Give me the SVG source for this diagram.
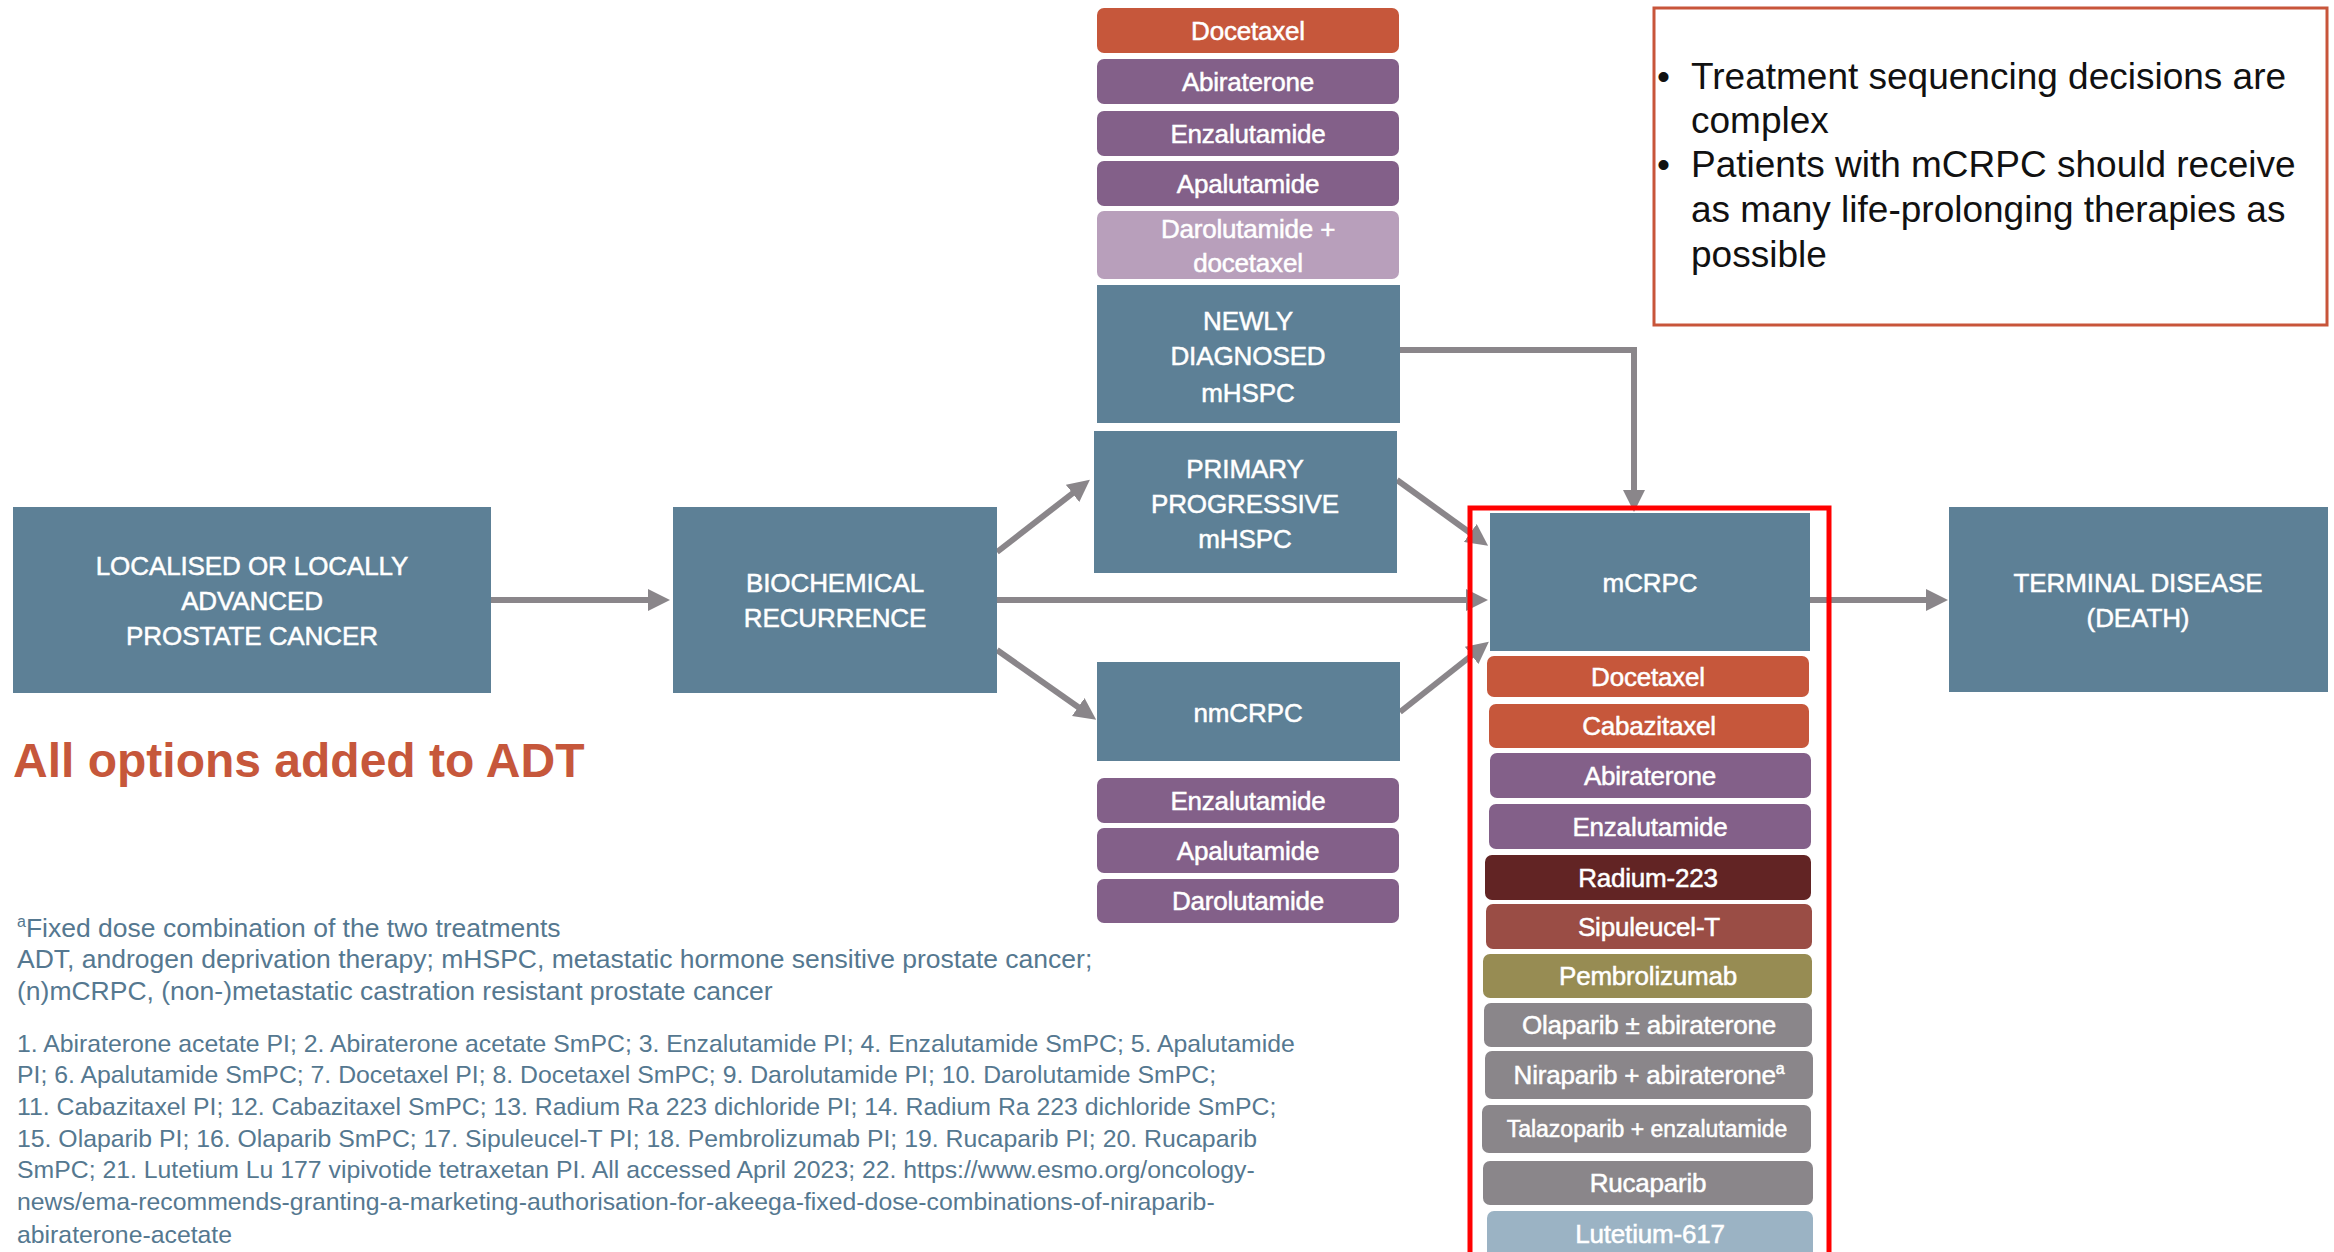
<svg xmlns="http://www.w3.org/2000/svg" width="2334" height="1252" viewBox="0 0 2334 1252">
<style>
  .stage { fill: #5d8096; }
  .st { font-family: "Liberation Sans", Arial, sans-serif; font-size: 26px; fill: #fff; stroke: #fff; stroke-width: 0.5px; text-anchor: middle; letter-spacing: -0.1px; }
  .drug { font-family: "Liberation Sans", Arial, sans-serif; font-size: 26px; fill: #fff; stroke: #fff; stroke-width: 0.5px; text-anchor: middle; letter-spacing: -0.2px; }
  .orange { fill: #c6573b; }
  .purple { fill: #836089; }
  .lpurple { fill: #b89fbb; }
  .radium { fill: #622424; }
  .sip { fill: #9a4d45; }
  .olive { fill: #978c53; }
  .grey { fill: #8a868a; }
  .lut { fill: #9bb3c4; }
  .conn { stroke: #8a868a; stroke-width: 6; fill: none; }
  .foot { font-family: "Liberation Sans", Arial, sans-serif; font-size: 24.8px; fill: #557890; }
  .foot2 { font-family: "Liberation Sans", Arial, sans-serif; font-size: 26.5px; fill: #557890; }
  .bul { font-family: "Liberation Sans", Arial, sans-serif; font-size: 37px; fill: #111; }
</style>
<defs>
  <marker id="ah" viewBox="0 0 22 22" refX="12" refY="11" markerWidth="22" markerHeight="22" markerUnits="userSpaceOnUse" orient="auto">
    <path d="M0,0 L22,11 L0,22 z" fill="#8a868a"/>
  </marker>
</defs>

<g id="connectors">
  <line class="conn" x1="491" y1="600" x2="660" y2="600" marker-end="url(#ah)"/>
  <line class="conn" x1="997" y1="552" x2="1082" y2="486" marker-end="url(#ah)"/>
  <line class="conn" x1="997" y1="600" x2="1478" y2="600" marker-end="url(#ah)"/>
  <line class="conn" x1="997" y1="650" x2="1088" y2="714" marker-end="url(#ah)"/>
  <path class="conn" d="M1400,350 H1634 V502" marker-end="url(#ah)"/>
  <line class="conn" x1="1397" y1="480" x2="1480" y2="540" marker-end="url(#ah)"/>
  <line class="conn" x1="1400" y1="712" x2="1481" y2="648" marker-end="url(#ah)"/>
  <line class="conn" x1="1810" y1="600" x2="1938" y2="600" marker-end="url(#ah)"/>
</g>

<g id="localised">
  <rect class="stage" x="13" y="507" width="478" height="186"/>
  <text class="st" x="252" y="575">LOCALISED OR LOCALLY</text>
  <text class="st" x="252" y="610">ADVANCED</text>
  <text class="st" x="252" y="645">PROSTATE CANCER</text>
</g>

<g id="biochemical">
  <rect class="stage" x="673" y="507" width="324" height="186"/>
  <text class="st" x="835" y="592">BIOCHEMICAL</text>
  <text class="st" x="835" y="627">RECURRENCE</text>
</g>

<g id="newly-diagnosed">
  <rect class="stage" x="1097" y="285" width="303" height="138"/>
  <text class="st" x="1248" y="330">NEWLY</text>
  <text class="st" x="1248" y="365">DIAGNOSED</text>
  <text class="st" x="1248" y="402">mHSPC</text>
</g>

<g id="primary-progressive">
  <rect class="stage" x="1094" y="431" width="303" height="142"/>
  <text class="st" x="1245" y="478">PRIMARY</text>
  <text class="st" x="1245" y="513">PROGRESSIVE</text>
  <text class="st" x="1245" y="548">mHSPC</text>
</g>

<g id="nmcrpc">
  <rect class="stage" x="1097" y="662" width="303" height="99"/>
  <text class="st" x="1248" y="722">nmCRPC</text>
</g>

<g id="mcrpc">
  <rect class="stage" x="1490" y="513" width="320" height="138"/>
  <text class="st" x="1650" y="592">mCRPC</text>
</g>

<g id="terminal">
  <rect class="stage" x="1949" y="507" width="379" height="185"/>
  <text class="st" x="2138" y="592">TERMINAL DISEASE</text>
  <text class="st" x="2138" y="627">(DEATH)</text>
</g>

<g id="mhspc-drugs">
  <rect class="orange" x="1097" y="8" width="302" height="45" rx="7"/>
  <text class="drug" x="1248" y="40">Docetaxel</text>
  <rect class="purple" x="1097" y="59" width="302" height="45" rx="7"/>
  <text class="drug" x="1248" y="91">Abiraterone</text>
  <rect class="purple" x="1097" y="111" width="302" height="45" rx="7"/>
  <text class="drug" x="1248" y="143">Enzalutamide</text>
  <rect class="purple" x="1097" y="161" width="302" height="45" rx="7"/>
  <text class="drug" x="1248" y="193">Apalutamide</text>
  <rect class="lpurple" x="1097" y="211" width="302" height="68" rx="7"/>
  <text class="drug" x="1248" y="238">Darolutamide +</text>
  <text class="drug" x="1248" y="272">docetaxel</text>
</g>

<g id="nmcrpc-drugs">
  <rect class="purple" x="1097" y="778" width="302" height="45" rx="7"/>
  <text class="drug" x="1248" y="810">Enzalutamide</text>
  <rect class="purple" x="1097" y="828" width="302" height="45" rx="7"/>
  <text class="drug" x="1248" y="860">Apalutamide</text>
  <rect class="purple" x="1097" y="879" width="302" height="44" rx="7"/>
  <text class="drug" x="1248" y="910">Darolutamide</text>
</g>

<g id="mcrpc-drugs">
  <rect class="orange" x="1487" y="656" width="322" height="41" rx="7"/>
  <text class="drug" x="1648" y="686">Docetaxel</text>
  <rect class="orange" x="1489" y="704" width="320" height="44" rx="7"/>
  <text class="drug" x="1649" y="735">Cabazitaxel</text>
  <rect class="purple" x="1490" y="753" width="321" height="45" rx="7"/>
  <text class="drug" x="1650" y="785">Abiraterone</text>
  <rect class="purple" x="1489" y="804" width="322" height="45" rx="7"/>
  <text class="drug" x="1650" y="836">Enzalutamide</text>
  <rect class="radium" x="1485" y="855" width="326" height="45" rx="7"/>
  <text class="drug" x="1648" y="887">Radium-223</text>
  <rect class="sip" x="1486" y="904" width="326" height="45" rx="7"/>
  <text class="drug" x="1649" y="936">Sipuleucel-T</text>
  <rect class="olive" x="1483" y="954" width="329" height="44" rx="7"/>
  <text class="drug" x="1648" y="985">Pembrolizumab</text>
  <rect class="grey" x="1484" y="1003" width="328" height="44" rx="7"/>
  <text class="drug" x="1649" y="1034">Olaparib ± abiraterone</text>
  <rect class="grey" x="1485" y="1051" width="328" height="48" rx="7"/>
  <text class="drug" x="1649" y="1084">Niraparib + abiraterone<tspan font-size="16" dy="-10">a</tspan></text>
  <rect class="grey" x="1482" y="1105" width="329" height="48" rx="7"/>
  <text class="drug" x="1647" y="1137" style="font-size:23px;letter-spacing:0">Talazoparib + enzalutamide</text>
  <rect class="grey" x="1483" y="1161" width="330" height="44" rx="7"/>
  <text class="drug" x="1648" y="1192">Rucaparib</text>
  <rect class="lut" x="1487" y="1211" width="326" height="52" rx="7"/>
  <text class="drug" x="1650" y="1243">Lutetium-617</text>
</g>

<g id="mcrpc-frame">
  <rect x="1470" y="508" width="359" height="800" fill="none" stroke="#ff0000" stroke-width="5"/>
</g>

<g id="key-messages">
  <rect x="1654" y="8" width="673" height="317" fill="#fff" stroke="#c8553a" stroke-width="3"/>
  <text class="bul" x="1657" y="89">•</text>
  <text class="bul" x="1691" y="89">Treatment sequencing decisions are</text>
  <text class="bul" x="1691" y="133">complex</text>
  <text class="bul" x="1657" y="177">•</text>
  <text class="bul" x="1691" y="177">Patients with mCRPC should receive</text>
  <text class="bul" x="1691" y="222">as many life-prolonging therapies as</text>
  <text class="bul" x="1691" y="267">possible</text>
</g>

<g id="adt-note">
  <text x="13" y="777" font-family="'Liberation Sans', Arial, sans-serif" font-size="48" font-weight="bold" fill="#c6573b">All options added to ADT</text>
</g>

<g id="footnotes">
  <text class="foot2" x="17" y="937"><tspan font-size="16" dy="-10">a</tspan><tspan dy="10">Fixed dose combination of the two treatments</tspan></text>
  <text class="foot2" x="17" y="968">ADT, androgen deprivation therapy; mHSPC, metastatic hormone sensitive prostate cancer;</text>
  <text class="foot2" x="17" y="1000">(n)mCRPC, (non-)metastatic castration resistant prostate cancer</text>
  <text class="foot" x="17" y="1052">1. Abiraterone acetate PI; 2. Abiraterone acetate SmPC; 3. Enzalutamide PI; 4. Enzalutamide SmPC; 5. Apalutamide</text>
  <text class="foot" x="17" y="1083">PI; 6. Apalutamide SmPC; 7. Docetaxel PI; 8. Docetaxel SmPC; 9. Darolutamide PI; 10. Darolutamide SmPC;</text>
  <text class="foot" x="17" y="1115">11. Cabazitaxel PI; 12. Cabazitaxel SmPC; 13. Radium Ra 223 dichloride PI; 14. Radium Ra 223 dichloride SmPC;</text>
  <text class="foot" x="17" y="1147">15. Olaparib PI; 16. Olaparib SmPC; 17. Sipuleucel-T PI; 18. Pembrolizumab PI; 19. Rucaparib PI; 20. Rucaparib</text>
  <text class="foot" x="17" y="1178">SmPC; 21. Lutetium Lu 177 vipivotide tetraxetan PI. All accessed April 2023; 22. https://www.esmo.org/oncology-</text>
  <text class="foot" x="17" y="1210">news/ema-recommends-granting-a-marketing-authorisation-for-akeega-fixed-dose-combinations-of-niraparib-</text>
  <text class="foot" x="17" y="1243">abiraterone-acetate</text>
</g>
</svg>
